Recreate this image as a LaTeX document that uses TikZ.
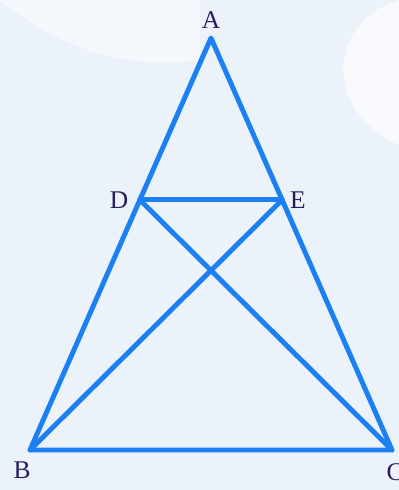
\documentclass[tikz,border=0pt]{standalone}
\usepackage{fontspec}
\setmainfont{Liberation Serif}
\usetikzlibrary{calc}
\definecolor{edgeblue}{RGB}{28,128,242}
\definecolor{labelnavy}{RGB}{40,28,92}
\definecolor{bgblue}{RGB}{236,242,250}

\begin{document}
\begin{tikzpicture}[
  side/.style={draw=edgeblue,line width=2.8pt,line cap=round,line join=round},
  vlabel/.style={text=labelnavy,font=\fontsize{14.5}{16}\selectfont,inner sep=0pt},
]
% background
\fill[bgblue] (0,0) rectangle (7.98,9.8);
\fill[white,opacity=0.6] (7.98,9.8) .. controls (6.6,9.4) and (6.4,7.6) .. (7.98,6.9) -- cycle;
\fill[white,opacity=0.5] (0,9.8) .. controls (1.2,8.8) and (2.6,8.4) .. (4.0,8.6) -- (4.0,9.8) -- cycle;
\useasboundingbox (0,0) rectangle (7.98,9.8);

% vertices
\coordinate (A) at (4.22,9.04);
\coordinate (B) at (0.60,0.80);
\coordinate (C) at (7.84,0.80);
\coordinate (D) at ($(A)!0.393!(B)$);
\coordinate (E) at ($(A)!0.393!(C)$);

% triangle and segments
\draw[side] (A) -- (B) -- (C) -- cycle;
\draw[side] (D) -- (E);
\draw[side] (D) -- (C);
\draw[side] (E) -- (B);

% labels
\node[vlabel] (lA) at (4.22,9.40) {A};
\node[vlabel] (lB) at (0.44,0.40) {B};
\node[vlabel] (lC) at (7.90,0.36) {C};
\node[vlabel] (lD) at (2.38,5.80) {D};
\node[vlabel] (lE) at (5.96,5.80) {E};
\end{tikzpicture}
\end{document}
